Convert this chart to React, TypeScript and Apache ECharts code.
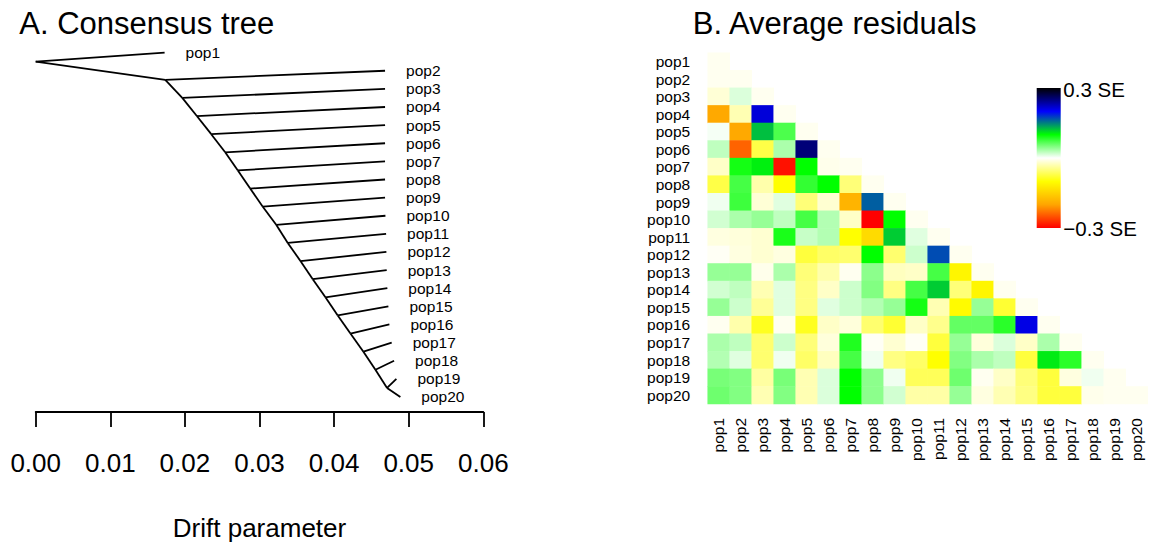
import React, { useEffect, useRef } from 'react';
import * as echarts from 'echarts';

const FONT = '"Liberation Sans", Arial, Helvetica, sans-serif';

// Population names (tree leaves and heatmap rows/columns)
const populations = [
  'pop1', 'pop2', 'pop3', 'pop4', 'pop5', 'pop6', 'pop7', 'pop8', 'pop9', 'pop10',
  'pop11', 'pop12', 'pop13', 'pop14', 'pop15', 'pop16', 'pop17', 'pop18', 'pop19', 'pop20',
];

// Drift value at each leaf tip (pop1..pop20)
const leafDrift = [
  0.01728, 0.04683, 0.04683, 0.04683, 0.04683, 0.04683, 0.04683, 0.04683, 0.04683, 0.04688,
  0.04697, 0.04701, 0.04705, 0.04714, 0.04728, 0.04741, 0.04772, 0.04804, 0.04835, 0.04888,
];

// Drift value at each internal node along the backbone (root first)
const nodeDrift = [
  0, 0.01737, 0.01965, 0.0216, 0.02353, 0.0254, 0.0271, 0.02875, 0.03044, 0.03224,
  0.03379, 0.03549, 0.03714, 0.03884, 0.04049, 0.04219, 0.04393, 0.04554, 0.0471,
];

// Drift axis ticks
const driftMin = 0;
const driftMax = 0.06;
const driftStep = 0.01;

// Average residuals, lower triangle, row popN holds columns pop1..popN
const res1 = [-0.006];
const res2 = [-0.006, -0.006];
const res3 = [-0.016, 0.014, -0.006];
const res4 = [-0.195, -0.03, 0.215, -0.006];
const res5 = [0.004, -0.195, 0.125, 0.07, -0.006];
const res6 = [0.025, -0.24, -0.072, 0.033, 0.253, -0.006];
const res7 = [-0.022, 0.092, 0.106, -0.29, 0.1, -0.008, -0.006];
const res8 = [-0.072, 0.073, -0.033, -0.1, 0.08, 0.1, -0.053, -0.006];
const res9 = [0.006, 0.076, -0.016, 0.012, -0.053, -0.018, -0.183, 0.163, -0.006];
const res10 = [0.018, 0.033, 0.041, 0.025, 0.073, 0.03, -0.022, -0.3, 0.1, -0.006];
const res11 = [-0.012, -0.014, -0.018, 0.09, 0.022, 0.03, -0.1, -0.14, 0.12, 0.012, -0.006];
const res12 = [-0.004, -0.012, -0.018, -0.012, -0.076, -0.06, -0.057, 0.1, -0.057, 0.02, 0.17, -0.006];
const res13 = [0.041, 0.041, -0.008, 0.033, -0.053, -0.033, -0.006, 0.045, -0.025, -0.022, 0.073, -0.11, -0.006];
const res14 = [0.018, 0.025, -0.03, 0.012, -0.049, -0.022, 0.02, 0.049, -0.049, 0.073, 0.12, -0.053, -0.11, -0.006];
const res15 = [0.041, 0.02, -0.041, 0.012, -0.049, 0.012, 0.02, 0.03, 0.041, 0.092, -0.03, -0.105, 0.041, -0.08, -0.006];
const res16 = [-0.006, -0.033, -0.088, -0.006, -0.088, -0.022, -0.014, -0.057, -0.08, -0.022, -0.045, 0.061, 0.061, 0.084, 0.21, -0.006];
const res17 = [0.033, 0.025, -0.057, 0.02, -0.053, -0.014, 0.088, -0.004, -0.018, -0.004, -0.076, 0.041, -0.014, 0.014, -0.022, 0.033, -0.006];
const res18 = [0.03, 0.012, -0.057, 0.006, -0.06, -0.025, 0.073, 0.006, -0.049, -0.06, -0.1, 0.049, 0.033, 0.025, -0.076, 0.108, 0.084, -0.006];
const res19 = [0.053, 0.049, -0.037, 0.053, -0.03, 0.014, 0.1, 0.045, 0.006, -0.065, -0.065, 0.057, -0.006, -0.022, -0.053, -0.076, -0.012, 0.006, -0.006];
const res20 = [0.057, 0.049, -0.03, 0.049, -0.03, 0.014, 0.1, 0.045, 0.018, -0.035, -0.035, 0.041, -0.012, -0.03, -0.049, -0.076, -0.076, -0.008, -0.006, -0.006];

const residualRows = [
  res1, res2, res3, res4, res5, res6, res7, res8, res9, res10,
  res11, res12, res13, res14, res15, res16, res17, res18, res19, res20,
];

// Colour scale (from -0.3 SE to +0.3 SE)
const residualMin = -0.3;
const residualMax = 0.3;
const residualColors = ['#ff0000', '#ffa500', '#ffff00', '#ffffff', '#00ff00', '#0000ff', '#000000'];
const legendLabels = ['0.3 SE', '\u22120.3 SE'];

function buildOption() {
  // Tree edges: node k -> leaf k and node k+1; last node -> last two leaves
  const edges: any[] = [];
  const nodeY = (k: number) => k + 1.5;
  const leafY = (i: number) => i + 1;
  const last = nodeDrift.length - 1;
  for (let k = 0; k < last; k++) {
    edges.push({ coords: [[nodeDrift[k], nodeY(k)], [leafDrift[k], leafY(k)]] });
    edges.push({ coords: [[nodeDrift[k], nodeY(k)], [nodeDrift[k + 1], nodeY(k + 1)]] });
  }
  edges.push({ coords: [[nodeDrift[last], nodeY(last)], [leafDrift[last], leafY(last)]] });
  edges.push({ coords: [[nodeDrift[last], nodeY(last)], [leafDrift[last + 1], leafY(last + 1)]] });

  const leafPoints = populations.map((name, i) => [leafDrift[i], leafY(i), name]);

  const heatData: any[] = [];
  residualRows.forEach((row, r) => {
    row.forEach((v, c) => heatData.push([c, r, v]));
  });

  const stops = residualColors
    .slice()
    .reverse()
    .map((color, i) => ({ offset: i / (residualColors.length - 1), color }));

  return {
    animation: false,
    backgroundColor: '#ffffff',
    textStyle: { fontFamily: FONT },
    grid: [
      { left: 35.7, top: 34.5, width: 447.6, height: 384.8 },
      { left: 707.7, top: 52.7, width: 440, height: 351.3 },
    ],
    xAxis: [
      {
        gridIndex: 0,
        type: 'value',
        position: 'bottom',
        min: driftMin,
        max: driftMax,
        interval: driftStep,
        axisLine: { show: true, onZero: false, lineStyle: { color: '#000', width: 1.8 } },
        axisTick: { show: true, length: 15, lineStyle: { color: '#000', width: 1.8 } },
        axisLabel: {
          fontSize: 26,
          color: '#000',
          margin: 38,
          fontFamily: FONT,
          formatter: (v: number) => v.toFixed(2),
        },
        splitLine: { show: false },
        name: 'Drift parameter',
        nameLocation: 'middle',
        nameGap: 103,
        nameTextStyle: { fontSize: 26, color: '#000', fontFamily: FONT },
      },
      {
        gridIndex: 1,
        type: 'category',
        data: populations,
        axisLine: { show: false },
        axisTick: { show: false },
        splitLine: { show: false },
        axisLabel: { rotate: 90, fontSize: 15.5, color: '#000', margin: 14, interval: 0, fontFamily: FONT },
      },
    ],
    yAxis: [
      { gridIndex: 0, type: 'value', min: 0, max: 20.83, inverse: true, show: false },
      {
        gridIndex: 1,
        type: 'category',
        data: populations,
        inverse: true,
        axisLine: { show: false },
        axisTick: { show: false },
        splitLine: { show: false },
        axisLabel: { fontSize: 15.5, color: '#000', margin: 17.5, interval: 0, fontFamily: FONT },
      },
    ],
    visualMap: {
      type: 'continuous',
      show: false,
      min: residualMin,
      max: residualMax,
      dimension: 2,
      seriesIndex: 2,
      inRange: { color: residualColors },
    },
    series: [
      {
        type: 'lines',
        coordinateSystem: 'cartesian2d',
        xAxisIndex: 0,
        yAxisIndex: 0,
        silent: true,
        lineStyle: { color: '#000', width: 1.8, opacity: 1 },
        data: edges,
      },
      {
        type: 'scatter',
        xAxisIndex: 0,
        yAxisIndex: 0,
        symbolSize: 0,
        silent: true,
        itemStyle: { opacity: 1 },
        data: leafPoints,
        label: {
          show: true,
          position: 'right',
          distance: 21,
          color: '#000',
          opacity: 1,
          fontSize: 15.5,
          fontFamily: FONT,
          formatter: (p: any) => p.data[2],
        },
      },
      {
        type: 'heatmap',
        xAxisIndex: 1,
        yAxisIndex: 1,
        silent: true,
        data: heatData,
        itemStyle: { borderWidth: 0 },
        emphasis: { disabled: true },
      },
    ],
    graphic: [
      {
        type: 'text',
        left: 19.3,
        top: 8,
        style: { text: 'A. Consensus tree', fontSize: 31, fontFamily: FONT, fill: '#000' },
      },
      {
        type: 'text',
        left: 692.7,
        top: 8,
        style: { text: 'B. Average residuals', fontSize: 31, fontFamily: FONT, fill: '#000' },
      },
      {
        type: 'rect',
        shape: { x: 1036.7, y: 88, width: 24, height: 140 },
        style: { fill: new echarts.graphic.LinearGradient(0, 0, 0, 1, stops) },
      },
      {
        type: 'text',
        left: 1063.3,
        top: 79,
        style: { text: legendLabels[0], fontSize: 20.5, fontFamily: FONT, fill: '#000' },
      },
      {
        type: 'text',
        left: 1063.3,
        top: 218,
        style: { text: legendLabels[1], fontSize: 20.5, fontFamily: FONT, fill: '#000' },
      },
    ],
  };
}

export default function App() {
  const ref = useRef<HTMLDivElement>(null);
  useEffect(() => {
    if (!ref.current) return;
    const chart = echarts.init(ref.current, undefined, { renderer: 'svg' });
    chart.setOption(buildOption() as any);
    return () => chart.dispose();
  }, []);
  return (
    <div
      ref={ref}
      style={{ position: 'fixed', left: 0, top: 0, width: 1152, height: 546, background: '#fff' }}
    />
  );
}
